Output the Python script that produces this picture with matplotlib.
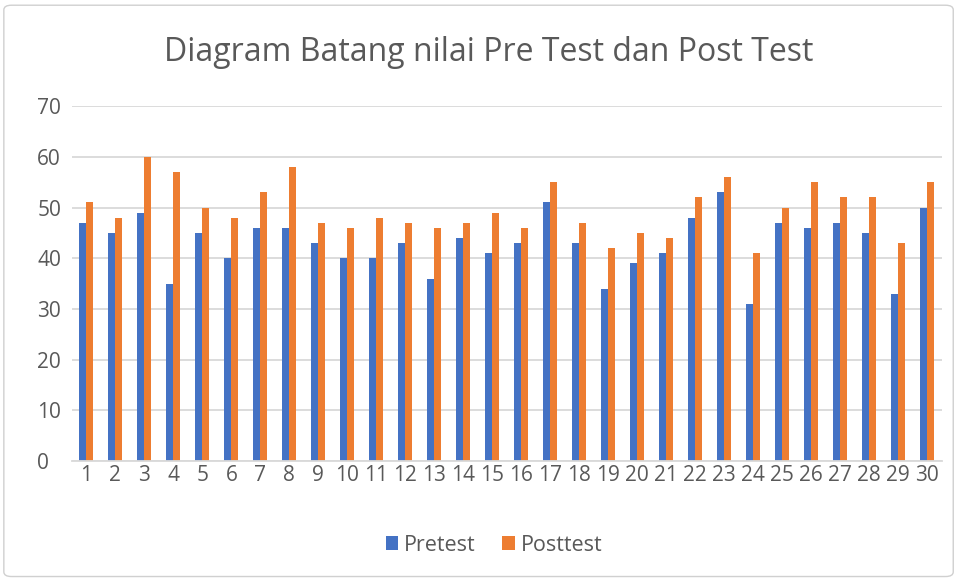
import numpy as np
import matplotlib.pyplot as plt
from matplotlib.patches import FancyBboxPatch

# -----------------------------
# Data
# -----------------------------
students = [str(i) for i in range(1, 31)]
pretest = [47, 45, 49, 35, 45, 40, 46, 46, 43, 40,
           40, 43, 36, 44, 41, 43, 51, 43, 34, 39,
           41, 48, 53, 31, 47, 46, 47, 45, 33, 50]
posttest = [51, 48, 60, 57, 50, 48, 53, 58, 47, 46,
            48, 47, 46, 47, 49, 46, 55, 47, 42, 45,
            44, 52, 56, 41, 50, 55, 52, 52, 43, 55]
y_ticks = [0, 10, 20, 30, 40, 50, 60, 70]

BLUE = "#4472C4"
ORANGE = "#ED7D31"
TEXT = "#595959"
GRID = "#D9D9D9"

plt.rcParams["font.family"] = ["Open Sans", "DejaVu Sans"]

fig = plt.figure(figsize=(9.59, 5.8), dpi=100)
ax = fig.add_axes([0.075, 0.205, 0.907, 0.612])

# outer chart border
fig.patches.append(FancyBboxPatch((0.004, 0.006), 0.99, 0.985, boxstyle="round,pad=0,rounding_size=0.008",
                                  transform=fig.transFigure, facecolor="none", edgecolor="#D0D0D0", linewidth=1.0))

x = np.arange(len(students))
w = 0.24
ax.bar(x - w / 2, pretest, width=w, color=BLUE, label="Pretest", zorder=2)
ax.bar(x + w / 2, posttest, width=w, color=ORANGE, label="Posttest", zorder=2)

ax.set_xlim(-0.5, len(students) - 0.5)
ax.set_ylim(0, 70)
ax.set_yticks(y_ticks)
ax.set_xticks(x)
ax.set_xticklabels(students)
ax.yaxis.grid(True, color=GRID, linewidth=1.3, zorder=0)
ax.set_axisbelow(True)

for side in ["top", "right", "left"]:
    ax.spines[side].set_visible(False)
ax.spines["bottom"].set_color(GRID)
ax.spines["bottom"].set_linewidth(1.3)
ax.tick_params(axis="both", length=0, labelsize=15, colors=TEXT)
ax.tick_params(axis="x", pad=3)
ax.tick_params(axis="y", pad=25)
plt.setp(ax.get_yticklabels(), ha="left")

fig.text(0.51, 0.909, "Diagram Batang nilai Pre Test dan Post Test", ha="center", va="center",
         fontsize=23, color=TEXT)

fig.legend(loc="center", bbox_to_anchor=(0.515, 0.06), ncol=2, frameon=False,
           fontsize=15.5, labelcolor=TEXT, handlelength=0.6, handleheight=0.6,
           handletextpad=0.25, columnspacing=1.25)

fig.savefig("out.png", dpi=100)
